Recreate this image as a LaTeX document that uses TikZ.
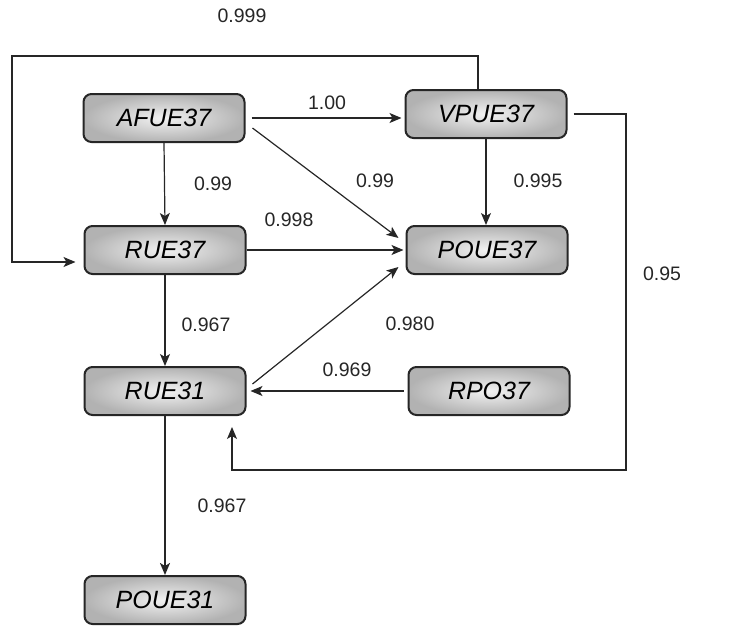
\documentclass[tikz,border=0pt]{standalone}
\usepackage{fontspec}
\setmainfont{Liberation Sans}
\usetikzlibrary{arrows.meta,calc}
\begin{document}
\begin{tikzpicture}[x=1pt,y=-1pt,
  box/.style={draw=black!85, line width=2pt, rounded corners=8pt,
    minimum width=161pt, minimum height=48pt, inner sep=0pt,
    inner color=gray!10, outer color=gray!60,
    font=\fontsize{25}{25}\selectfont\itshape},
  conn/.style={line width=1.2pt, draw=black!85,
    -{Stealth[length=12pt,width=10pt,inset=3pt]}},
  lbl/.style={font=\fontsize{19.5}{19.5}\selectfont, text=black!85}]
\useasboundingbox (0,0) rectangle (729,632);

\node[box] (AFUE) at (164,118) {AFUE37};
\node[box] (VPUE) at (486,114) {VPUE37};
\node[box] (RUEa) at (165,250) {RUE37};
\node[box] (POUEa) at (487,250) {POUE37};
\node[box] (RUEb) at (165,391) {RUE31};
\node[box] (RPO) at (489,391) {RPO37};
\node[box] (POUEb) at (165,600) {POUE31};

% top loop
\coordinate (t1) at (478,56);
\coordinate (t2) at (12,56);
\coordinate (t3) at (12,262);
\draw[conn] ([xshift=-8pt]VPUE.north) -- (t1) -- (t2) -- (t3)
  -- ([xshift=-8pt,yshift=-12pt]RUEa.west);

% right loop
\coordinate (r1) at (626,114);
\coordinate (r2) at (626,470);
\coordinate (r3) at (232,470);
\draw[conn] ([xshift=6pt]VPUE.east) -- (r1) -- (r2) -- (r3)
  -- ([yshift=-11pt]r3 |- RUEb.south);

\draw[conn] ([xshift=6pt]AFUE.east) -- ([xshift=-3pt]AFUE.east -| VPUE.west);
\draw[conn] (AFUE.south) -- (RUEa.north);
\draw[conn] ([xshift=7pt,yshift=-10pt]AFUE.east) -- ([xshift=-7pt,yshift=12pt]POUEa.west);
\draw[conn] (VPUE.south) -- (VPUE.south |- POUEa.north);
\draw[conn] (RUEa.east) -- ([xshift=-2pt]POUEa.west);
\draw[conn] (RUEa.south) -- (RUEb.north);
\draw[conn] ([xshift=6pt,yshift=7pt]RUEb.east) -- ([xshift=-7pt,yshift=-17pt]POUEa.west);
\draw[conn] ([xshift=-4pt]RPO.west) -- ([xshift=4pt]RUEb.east);
\draw[conn, line width=2pt] (RUEb.south) -- (POUEb.north);

% labels
\node[lbl] (l1) at (242,16) {0.999};
\node[lbl] (l2) at (327,103) {1.00};
\node[lbl] (l3) at (213,184) {0.99};
\node[lbl] (l4) at (375,181) {0.99};
\node[lbl] (l5) at (538,181) {0.995};
\node[lbl] (l6) at (289,220) {0.998};
\node[lbl] (l7) at (206,325) {0.967};
\node[lbl] (l8) at (410,324) {0.980};
\node[lbl] (l9) at (347,370) {0.969};
\node[lbl] (l10) at (662,274) {0.95};
\node[lbl] (l11) at (222,506) {0.967};
\end{tikzpicture}
\end{document}
